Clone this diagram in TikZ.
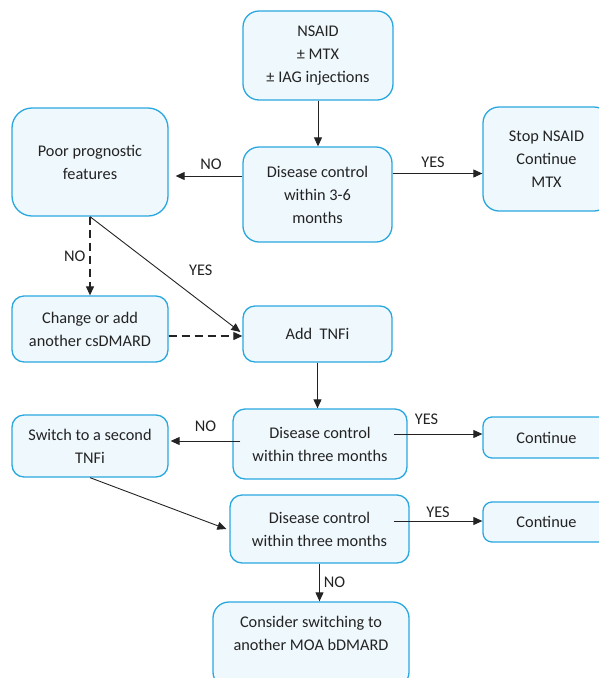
\documentclass[tikz,border=0pt]{standalone}
\usepackage{fontspec}
\setmainfont{Carlito}
\usetikzlibrary{arrows.meta}
\definecolor{boxline}{RGB}{41,168,224}
\definecolor{boxfill}{RGB}{239,248,253}
\definecolor{ink}{RGB}{35,35,35}
\begin{document}
\begin{tikzpicture}[x=1pt,y=1pt,font=\fontsize{16.3}{23}\selectfont,
  box/.style={draw=boxline,fill=boxfill,line width=1.3pt,rounded corners=16pt,
    align=center,inner sep=0pt,text=ink},
  arr/.style={-{Triangle[length=9pt,width=8pt]},line width=0.9pt,draw=ink},
  dash line/.style={dash pattern=on 8pt off 5pt,line width=1.1pt},
  lbl/.style={text=ink,inner sep=2pt}]
\useasboundingbox (0,0) rectangle (599,-678);
% boxes
\node[box,minimum width=150,minimum height=89] (start) at (318,-55.5) {NSAID\\± MTX\\± IAG injections};
\node[box,minimum width=149,minimum height=95] (dc1) at (317.5,-194.5) {Disease control\\within 3-6\\months};
\node[box,minimum width=127,minimum height=104] (stop) at (546.5,-159) {Stop NSAID\\Continue\\MTX};
\node[box,minimum width=156,minimum height=108,rounded corners=20pt] (poor) at (90,-162) {Poor prognostic\\features};
\node[box,minimum width=156,minimum height=66,rounded corners=12pt] (change) at (90,-329) {Change or add\\another csDMARD};
\node[box,minimum width=149,minimum height=56,rounded corners=12pt] (add) at (317.5,-334) {Add~~TNFi};
\node[box,minimum width=174,minimum height=70,rounded corners=12pt] (dc2) at (320,-444) {Disease control\\within three months};
\node[box,minimum width=127,minimum height=41,rounded corners=9pt] (cont1) at (546.5,-437.5) {Continue};
\node[box,minimum width=156,minimum height=62,rounded corners=12pt] (switch) at (90,-446) {Switch to a second\\TNFi};
\node[box,minimum width=179,minimum height=68,rounded corners=12pt] (dc3) at (319.5,-529) {Disease control\\within three months};
\node[box,minimum width=127,minimum height=40,rounded corners=9pt] (cont2) at (546.5,-522) {Continue};
\node[box,minimum width=196,minimum height=86] (consider) at (311,-645) {Consider switching to\\another MOA bDMARD\\\mbox{}};
% connectors
\draw[arr] (start.south) -- (start.south |- dc1.north);
\draw[arr] ([yshift=18.5]dc1.west) -- node[lbl,above=4pt,pos=0.47] {NO} ([xshift=7,yshift=-14]poor.east);
\draw[arr] ([yshift=21]dc1.east) -- node[lbl,above=3pt,pos=0.45] {YES} ([yshift=-14.5]stop.west);
\draw[arr,dash line] (poor.south) -- node[lbl,left,pos=0.5,xshift=-2] {NO} (change.north);
\draw[arr] (poor.south) -- node[lbl,above right,pos=0.55,xshift=14,yshift=2] {YES} ([xshift=-2,yshift=2]add.west);
\draw[arr,dash line] ([yshift=-7]change.east) -- ([yshift=-2]add.west);
\draw[arr] (add.south) -- (add.south |- dc2.north);
\draw[arr] ([xshift=8,yshift=3]dc2.west) -- node[lbl,above=7pt] {NO} ([xshift=2,yshift=5]switch.east);
\draw[arr] ([xshift=-14,yshift=10]dc2.east) -- node[lbl,above=7pt,pos=0.37] {YES} ([yshift=3.5]cont1.west);
\draw[arr] (switch.south) -- ([xshift=-3]dc3.west);
\draw[arr] ([xshift=-16,yshift=8]dc3.east) -- node[lbl,above=1pt,pos=0.5] {YES} ([yshift=1]cont2.west);
\draw[arr] (dc3.south) -- node[lbl,right,xshift=2] {NO} (dc3.south |- consider.north);
\end{tikzpicture}
\end{document}
